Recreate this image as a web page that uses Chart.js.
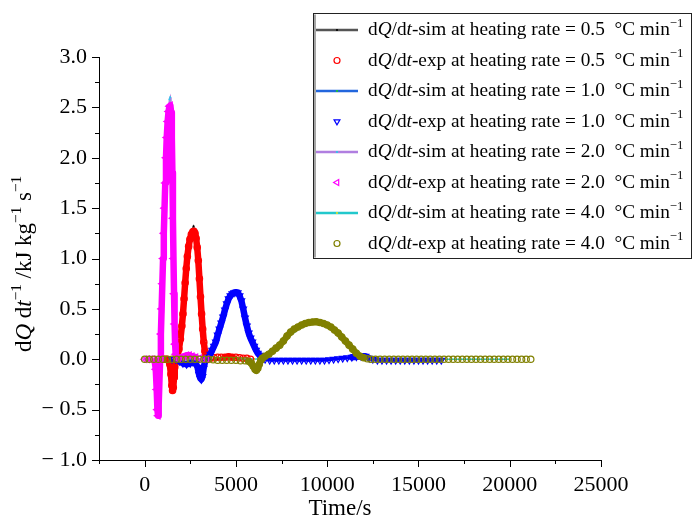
<!DOCTYPE html>
<html>
<head>
<meta charset="utf-8">
<title>dQ/dt vs time</title>
<script src="https://cdn.jsdelivr.net/npm/chart.js@4.4.1/dist/chart.umd.min.js"></script>
<style>
  html, body { margin: 0; padding: 0; background: #fff; }
  canvas { display: block; }
</style>
</head>
<body>
<canvas id="heatFlow" width="693" height="519"></canvas>
<script>
// heat flow curves, every point is [time in s, dQ/dt in kJ kg^-1 s^-1]
const rates = ['0.5', '1.0', '2.0', '4.0'];

const sim05 = [[1000,0],[1300,0],[1500,0],[1700,0.01],[1800,0.03],[1900,0.1],[2000,0.22],[2100,0.4],
  [2200,0.62],[2300,0.85],[2400,1.05],[2500,1.2],[2600,1.29],[2680,1.32],[2760,1.28],[2850,1.15],
  [2950,0.93],[3050,0.65],[3150,0.38],[3250,0.17],[3350,0.06],[3450,0.02],[3600,0],[4000,0],[5000,0],[6000,0]];

const exp05 = [[1000,0],[1100,0],[1200,0],[1300,-0.01],[1380,-0.05],[1440,-0.15],[1490,-0.26],[1530,-0.31],
  [1570,-0.28],[1610,-0.18],[1650,-0.08],[1700,-0.02],[1750,0],[1800,0.03],[1880,0.1],[1960,0.2],[2040,0.33],
  [2100,0.45],[2160,0.6],[2220,0.76],[2280,0.9],[2340,1.02],[2410,1.12],[2480,1.19],[2560,1.24],[2640,1.265],
  [2700,1.27],[2760,1.25],[2820,1.2],[2880,1.11],[2940,0.98],[3000,0.8],[3060,0.62],[3120,0.45],[3180,0.3],
  [3240,0.17],[3300,0.08],[3360,0.03],[3450,0.01],[3600,0.01],[3800,0.015],[4000,0.02],[4200,0.02],[4400,0.02],
  [4600,0.025],[4800,0.02],[5000,0.02],[5200,0.015],[5400,0.01],[5600,0.01],[5800,0]];

const sim10 = [[2000,0],[3000,0],[3400,0.01],[3700,0.08],[4000,0.24],[4300,0.43],[4600,0.6],[4900,0.67],
  [5100,0.66],[5300,0.57],[5500,0.4],[5700,0.25],[5900,0.16],[6100,0.08],[6400,0.02],[6800,0],[8000,0],
  [10000,0],[12000,0.01],[14000,0],[16000,0]];

const exp10 = [[1500,0],[1700,0],[1900,-0.02],[2100,-0.04],[2300,-0.05],[2500,-0.04],[2650,-0.03],[2800,-0.04],
  [2900,-0.08],[2980,-0.15],[3050,-0.19],[3110,-0.2],[3170,-0.17],[3230,-0.09],[3300,-0.03],[3380,0],[3500,0.02],
  [3600,0.05],[3700,0.09],[3800,0.13],[3900,0.17],[4000,0.24],[4100,0.3],[4200,0.36],[4300,0.42],[4400,0.49],
  [4500,0.55],[4600,0.6],[4700,0.63],[4800,0.65],[4900,0.66],[5000,0.665],[5100,0.66],[5200,0.63],[5300,0.58],
  [5400,0.5],[5500,0.41],[5600,0.33],[5700,0.26],[5800,0.21],[5900,0.17],[6000,0.13],[6100,0.09],[6200,0.06],
  [6300,0.04],[6400,0.02],[6500,0.01],[6600,0],[6850,-0.01],[7100,-0.01],[7350,-0.01],[7600,-0.01],[7850,-0.01],
  [8100,-0.01],[8350,-0.01],[8600,-0.01],[8850,-0.01],[9100,-0.01],[9350,-0.01],[9600,-0.01],[9850,-0.01],
  [10100,-0.005],[10350,0],[10600,0.005],[10850,0.01],[11100,0.015],[11350,0.02],[11600,0.025],[11850,0.03],
  [12100,0.03],[12300,0.01],[12500,0],[12750,-0.01],[13000,-0.01],[13250,-0.01],[13500,-0.01],[13750,-0.01],
  [14000,-0.01],[14250,-0.01],[14500,-0.01],[14750,-0.01],[15000,-0.01],[15250,-0.01],[15500,-0.01],
  [15750,-0.01],[16000,-0.01],[16250,-0.01]];

const sim20 = [[0,0],[600,0],[850,0],[900,0.2],[1000,0.75],[1100,1.35],[1200,1.95],[1280,2.35],[1360,2.58],
  [1400,2.6],[1440,2.5],[1490,2.15],[1530,1.7],[1570,1.15],[1610,0.65],[1650,0.3],[1700,0.08],[1760,0.01],
  [1850,0],[2500,0],[3000,0]];

const exp20 = [[0,0],[150,0],[300,0],[450,0],[550,-0.02],[610,-0.1],[660,-0.3],[700,-0.5],[735,-0.56],
  [770,-0.45],[810,-0.22],[850,0],[890,0.25],[930,0.5],[970,0.75],[1010,1],[1050,1.25],[1090,1.5],[1130,1.75],
  [1170,2],[1210,2.2],[1260,2.36],[1310,2.46],[1360,2.51],[1410,2.52],[1450,2.45],[1490,2.2],[1520,1.85],
  [1550,1.4],[1580,1],[1610,0.65],[1640,0.35],[1670,0.15],[1700,0.05],[1760,0.01],[1850,0.01],[2000,0.02],
  [2150,0.03],[2300,0.04],[2450,0.04],[2600,0.03],[2800,0.02],[3000,0.01],[3200,0],[3400,0]];

const sim40 = [[5000,0],[6000,0],[6500,0.01],[7000,0.06],[7500,0.14],[8000,0.24],[8500,0.31],[9000,0.345],
  [9400,0.35],[9800,0.34],[10200,0.3],[10600,0.235],[11000,0.16],[11400,0.085],[11800,0.03],[12200,0.005],
  [12600,0],[15000,0],[20000,0]];

const exp40 = [[0,0],[250,0],[500,0],[750,0],[1000,0],[1250,0],[1500,0],[1750,0],[2000,0],[2250,0],[2500,0],
  [2750,0],[3000,0],[3250,0],[3500,0],[3750,-0.005],[4000,-0.01],[4250,-0.01],[4500,-0.01],[4750,-0.01],
  [5000,-0.01],[5250,-0.015],[5500,-0.015],[5700,-0.02],[5850,-0.04],[5950,-0.07],[6050,-0.1],[6120,-0.11],
  [6200,-0.09],[6280,-0.05],[6360,-0.01],[6450,0.01],[6600,0.03],[6800,0.05],[7000,0.08],[7200,0.11],
  [7400,0.14],[7600,0.18],[7800,0.23],[8000,0.27],[8200,0.3],[8400,0.32],[8600,0.34],[8800,0.355],[9000,0.365],
  [9200,0.37],[9400,0.372],[9600,0.365],[9800,0.355],[10000,0.34],[10200,0.32],[10400,0.29],[10600,0.26],
  [10800,0.22],[11000,0.18],[11200,0.14],[11400,0.1],[11600,0.06],[11800,0.03],[12000,0.015],[12200,0.005],
  [12400,0],[12650,0],[12900,0],[13150,0],[13400,0],[13650,0],[13900,0],[14150,0],[14400,0],[14650,0],
  [14900,0],[15150,0],[15400,0],[15650,0],[15900,0],[16150,0],[16400,0],[16650,0],[16900,0],[17150,0],
  [17400,0],[17650,0],[17900,0],[18150,0],[18400,0],[18650,0],[18900,0],[19150,0],[19400,0],[19650,0],
  [19900,0],[20150,0],[20400,0],[20650,0],[20900,0],[21150,0]];

const xRange = [-2500, 25000];
const yRange = [-1, 3];
const xTitle = 'Time/s';
const yTitle = 'd*Q* d*t*^{−1} /kJ kg^{−1} s^{−1}';

const FONT = '"Liberation Serif", "Times New Roman", serif';
Chart.defaults.font.family = FONT;
Chart.defaults.color = '#000';

// legend order: sim then exp for each heating rate
// flatWidth: width of the band along the baseline (0 = markers only)
const series = [
  { kind: 'sim', data: sim05, line: '#555555', dot: '#000000', order: 7 },
  { kind: 'exp', data: exp05, color: '#ff0000', marker: 'circle', rot: 0, order: 3, flatWidth: 0 },
  { kind: 'sim', data: sim10, line: '#2266dd', dot: '#22cc22', order: 6 },
  { kind: 'exp', data: exp10, color: '#0000ff', marker: 'triangle', rot: 180, order: 2, flatWidth: 3 },
  { kind: 'sim', data: sim20, line: '#b07ee0', dot: '#22ccee', order: 5 },
  { kind: 'exp', data: exp20, color: '#ff00ff', marker: 'triangle', rot: 270, order: 1, flatWidth: 0 },
  { kind: 'sim', data: sim40, line: '#22c8cc', dot: '#e8e020', order: 4 },
  { kind: 'exp', data: exp40, color: '#808000', marker: 'circle', rot: 0, order: 0, flatWidth: 0 }
];

function nearZero(v) { return Math.abs(v) < 0.021; }

const datasets = series.map((s, i) => {
  const rate = rates[i >> 1];
  const label = 'd*Q*/d*t*-' + s.kind + ' at heating rate = ' + rate + '  °C min^{−1}';
  const pts = s.data.map(p => ({ x: p[0], y: p[1] }));
  if (s.kind === 'sim') {
    return {
      label, data: pts, showLine: true, order: s.order,
      borderColor: s.line, borderWidth: 1.6, tension: 0,
      pointRadius: 1, pointBorderWidth: 0, pointBackgroundColor: s.dot
    };
  }
  const flat = c => nearZero(s.data[c.p0DataIndex][1]) && nearZero(s.data[c.p1DataIndex][1]);
  // dense hollow markers over a thick band that follows the peaks
  return {
    label, data: pts, showLine: true, order: s.order,
    borderColor: s.color, borderWidth: 6.5, tension: 0,
    borderCapStyle: 'round', borderJoinStyle: 'round',
    segment: {
      borderColor: c => (flat(c) && !s.flatWidth) ? 'rgba(0,0,0,0)' : s.color,
      borderWidth: c => flat(c) ? (s.flatWidth || 1) : 6.5
    },
    pointStyle: s.marker, pointRotation: s.rot,
    pointRadius: s.marker === 'circle' ? 3.2 : 3.8, pointBorderWidth: 1.2,
    pointBorderColor: s.color, pointBackgroundColor: 'rgba(255,255,255,0)'
  };
});

// tiny markup: *italic*, ^{superscript}
function richParts(str) {
  const parts = [];
  const re = /\*([^*]+)\*|\^\{([^}]*)\}|([^*^]+)/g;
  let m;
  while ((m = re.exec(str))) {
    if (m[1]) parts.push({ text: m[1], italic: true });
    else if (m[2]) parts.push({ text: m[2], sup: true });
    else parts.push({ text: m[3] });
  }
  return parts;
}

function partFont(p, size) {
  return (p.italic ? 'italic ' : '') + (p.sup ? size * 0.66 : size) + 'px ' + FONT;
}

function drawRich(ctx, str, x, y, size, align) {
  const parts = richParts(str);
  let w = 0;
  parts.forEach(p => { ctx.font = partFont(p, size); w += ctx.measureText(p.text).width; });
  let cx = align === 'center' ? x - w / 2 : x;
  ctx.textAlign = 'left';
  ctx.textBaseline = 'alphabetic';
  parts.forEach(p => {
    ctx.font = partFont(p, size);
    ctx.fillText(p.text, cx, p.sup ? y - size * 0.42 : y);
    cx += ctx.measureText(p.text).width;
  });
}

function isMajorX(v) { return v >= 0 && v % 5000 === 0; }
function isMajorY(v) { return Math.abs(v * 2 - Math.round(v * 2)) < 1e-9; }

function markerPath(ctx, s, mx, cy) {
  ctx.beginPath();
  if (s.marker === 'circle') {
    ctx.arc(mx, cy, 3, 0, Math.PI * 2);
    return;
  }
  const r = 3.4, rad = s.rot * Math.PI / 180;
  for (let k = 0; k < 3; k++) {
    const a = rad + k * 2 * Math.PI / 3;
    const vx = mx + Math.sin(a) * r, vy = cy - Math.cos(a) * r;
    if (k === 0) ctx.moveTo(vx, vy); else ctx.lineTo(vx, vy);
  }
  ctx.closePath();
}

const decorations = {
  id: 'decorations',
  afterDraw(chart) {
    const { ctx, scales: { x, y } } = chart;
    ctx.save();
    ctx.strokeStyle = '#000';
    ctx.fillStyle = '#000';
    ctx.lineWidth = 1;

    // outward tick marks, long for labelled values
    x.ticks.forEach(t => {
      const px = Math.round(x.getPixelForValue(t.value)) + 0.5;
      const len = (t.value % 5000 === 0) ? 7 : 4;
      ctx.beginPath(); ctx.moveTo(px, x.top); ctx.lineTo(px, x.top + len); ctx.stroke();
    });
    y.ticks.forEach(t => {
      const py = Math.round(y.getPixelForValue(t.value)) + 0.5;
      const len = isMajorY(t.value) ? 7 : 4;
      ctx.beginPath(); ctx.moveTo(y.right, py); ctx.lineTo(y.right - len, py); ctx.stroke();
    });

    // axis titles
    drawRich(ctx, xTitle, 340, 515, 23, 'center');
    ctx.save();
    ctx.translate(31, 264);
    ctx.rotate(-Math.PI / 2);
    drawRich(ctx, yTitle, 0, 0, 23, 'center');
    ctx.restore();

    // legend box
    const bx = 313.5, by = 13.5, bw = 378, bh = 245;
    ctx.fillStyle = '#fff';
    ctx.fillRect(bx, by, bw, bh);
    ctx.strokeStyle = '#222';
    ctx.strokeRect(bx, by, bw, bh);
    ctx.strokeStyle = '#888';
    ctx.lineWidth = 1.5;
    ctx.beginPath(); ctx.moveTo(bx + 1.5, by + 1); ctx.lineTo(bx + 1.5, by + bh - 1); ctx.stroke();

    series.forEach((s, i) => {
      const base = 35 + i * 30.5;
      const cy = base - 5;
      const mx = 337;
      if (s.kind === 'sim') {
        ctx.strokeStyle = s.line;
        ctx.lineWidth = 2.4;
        ctx.beginPath(); ctx.moveTo(316, cy); ctx.lineTo(358, cy); ctx.stroke();
        ctx.fillStyle = s.dot;
        ctx.beginPath(); ctx.arc(mx, cy, 1.1, 0, Math.PI * 2); ctx.fill();
      } else {
        ctx.strokeStyle = s.color;
        ctx.lineWidth = 1.2;
        markerPath(ctx, s, mx, cy);
        ctx.stroke();
      }
      ctx.fillStyle = '#000';
      drawRich(ctx, chart.data.datasets[i].label, 368, base, 19.3, 'left');
    });
    ctx.restore();
  }
};

new Chart(document.getElementById('heatFlow'), {
  type: 'scatter',
  data: { datasets },
  options: {
    responsive: false,
    animation: false,
    events: [],
    layout: { padding: { left: 0, right: 92, top: 57, bottom: 0 } },
    plugins: { legend: { display: false }, tooltip: { enabled: false } },
    scales: {
      x: {
        type: 'linear', min: xRange[0], max: xRange[1],
        afterFit: s => { s.height = 59; },
        grid: { display: false, drawTicks: false },
        border: { display: true, color: '#000', width: 1 },
        ticks: {
          stepSize: 2500, autoSkip: false, maxRotation: 0, padding: 12,
          font: { size: 22 }, color: '#000',
          callback: v => isMajorX(v) ? String(v) : ''
        }
      },
      y: {
        type: 'linear', min: yRange[0], max: yRange[1],
        afterFit: s => { s.width = 99; },
        grid: { display: false, drawTicks: false },
        border: { display: true, color: '#000', width: 1 },
        ticks: {
          stepSize: 0.25, autoSkip: false, padding: 12,
          font: { size: 22 }, color: '#000',
          callback: v => {
            if (!isMajorY(v)) return '';
            const s = Math.abs(v).toFixed(1);
            return v < 0 ? '− ' + s : s;
          }
        }
      }
    }
  },
  plugins: [decorations]
});
</script>
</body>
</html>
